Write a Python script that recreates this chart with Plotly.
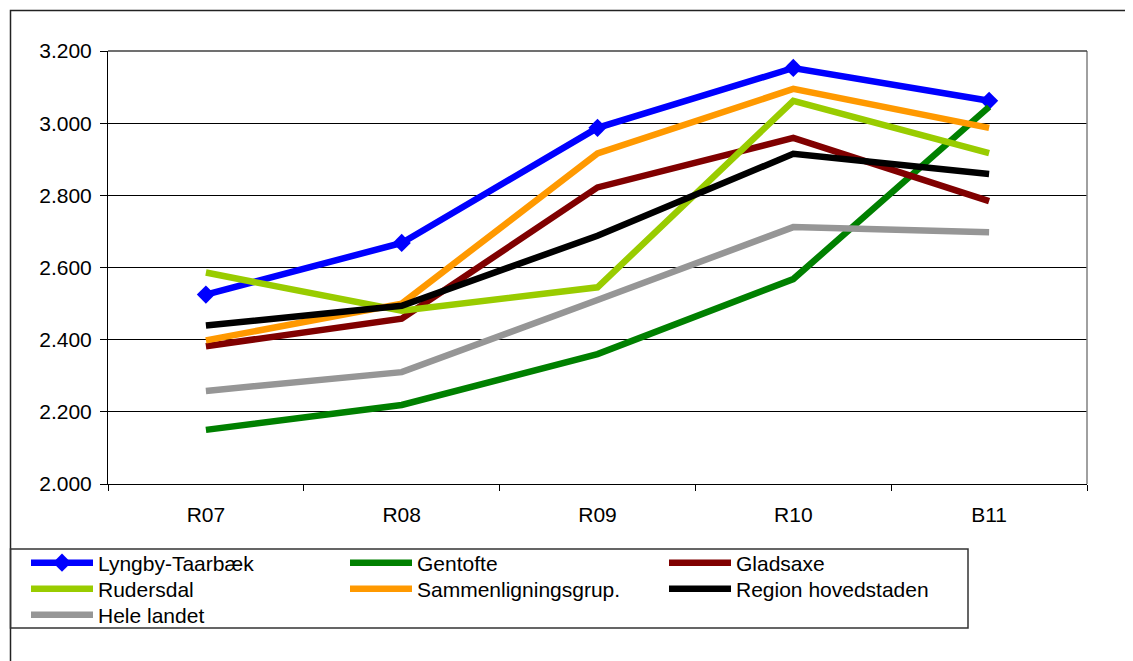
import plotly.graph_objects as go

categories = ["R07", "R08", "R09", "R10", "B11"]

lyngby = [2525, 2668, 2987, 3153, 3062]
gentofte = [2150, 2219, 2360, 2568, 3045]
gladsaxe = [2382, 2458, 2822, 2959, 2784]
rudersdal = [2586, 2480, 2545, 3062, 2917]
sammenligning = [2398, 2500, 2916, 3095, 2987]
region = [2439, 2494, 2688, 2915, 2859]
hele_landet = [2258, 2310, 2510, 2712, 2698]

series_names = ["Lyngby-Taarbæk", "Gentofte", "Gladsaxe", "Rudersdal",
                "Sammenligningsgrup.", "Region hovedstaden", "Hele landet"]
series_values = [lyngby, gentofte, gladsaxe, rudersdal, sammenligning, region, hele_landet]
series_colors = ["#0000FF", "#008000", "#800000", "#99CC00", "#FF9900", "#000000", "#969696"]
legend_rows = ["legend", "legend", "legend", "legend2", "legend2", "legend2", "legend3"]

y_ticks = [2000, 2200, 2400, 2600, 2800, 3000, 3200]

W, H = 1133, 661
L, R, T, B = 100, 54, 43, 185
pw, ph = W - L - R, H - T - B
FS = 21


def px_x(x):
    return (x - L) / pw


def px_y(y):
    return (H - B - y) / ph


fig = go.Figure()
for name, vals, col, lg in zip(series_names, series_values, series_colors, legend_rows):
    is_blue = name == "Lyngby-Taarbæk"
    fig.add_trace(go.Scatter(
        x=categories, y=vals, name=name, legend=lg,
        mode="lines+markers" if is_blue else "lines",
        line=dict(color=col, width=6.5),
        marker=dict(symbol="diamond", size=14, color=col) if is_blue else None,
    ))


def legend_row(yc):
    return dict(
        orientation="h",
        xref="container", yref="container",
        x=18 / W, y=1 - yc / H, xanchor="left", yanchor="middle",
        borderwidth=0, bgcolor="rgba(0,0,0,0)",
        entrywidth=242, entrywidthmode="pixels",
        itemwidth=62,
        font=dict(size=FS, color="black"),
        tracegroupgap=0,
    )


fig.update_layout(
    width=W, height=H,
    margin=dict(l=L, r=R, t=T, b=B, autoexpand=False),
    paper_bgcolor="white", plot_bgcolor="white",
    separators=",.",
    font=dict(family="Liberation Sans, Arial, sans-serif", size=FS, color="black"),
    showlegend=True,
    legend=legend_row(555),
    legend2=legend_row(581),
    legend3=legend_row(607),
    xaxis=dict(
        type="category", range=[-0.5, 4.5],
        showline=True, linecolor="black", linewidth=1,
        ticks="outside", tickson="boundaries", ticklen=6, tickcolor="black",
        ticklabelstandoff=12,
        showgrid=False, zeroline=False,
        tickfont=dict(size=FS),
    ),
    yaxis=dict(
        range=[2000, 3200], tickvals=y_ticks, tickformat=",d",
        showline=True, linecolor="black", linewidth=1,
        ticks="outside", ticklen=7, tickcolor="black",
        ticklabelstandoff=4,
        showgrid=True, gridcolor="black", gridwidth=1,
        zeroline=False,
        tickfont=dict(size=FS),
    ),
    shapes=[
        dict(type="line", xref="paper", yref="paper", x0=1, x1=1, y0=0, y1=1,
             line=dict(color="#808080", width=1.5)),
        dict(type="line", xref="paper", yref="paper", x0=0, x1=1, y0=1, y1=1,
             line=dict(color="#404040", width=1.5)),
        dict(type="rect", xref="paper", yref="paper",
             x0=px_x(2.5), x1=px_x(1145), y0=px_y(2.5), y1=px_y(680),
             line=dict(color="#222222", width=1.5), layer="below"),
        dict(type="rect", xref="paper", yref="paper",
             x0=px_x(2.5), x1=px_x(960), y0=px_y(541), y1=px_y(620),
             line=dict(color="#333333", width=1.5), layer="below"),
    ],
)

fig.write_html("out.html")
